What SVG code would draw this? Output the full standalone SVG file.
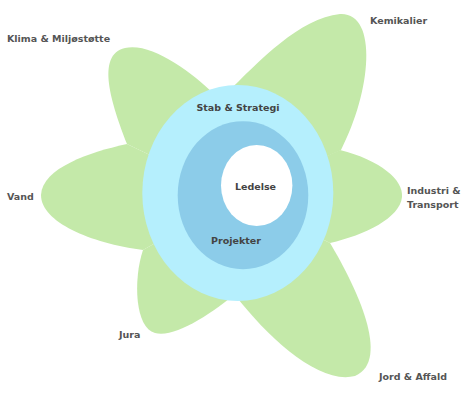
<svg xmlns="http://www.w3.org/2000/svg" width="470" height="402" viewBox="0 0 470 402">
<style>
.petal{fill:#c4e9a9}
.lbl{font-family:"DejaVu Sans",Verdana,sans-serif;font-weight:bold;font-size:9.5px;fill:#555555}
.in{fill:#444444}
</style>
<rect width="470" height="402" fill="#ffffff"/>
<g id="petals">
<path id="p-klima" class="petal" d="M127,144 C112,105 95,55 125,48 C150,42 190,70 215,95 L237,197 Z"/>
<path id="p-kemikalier" class="petal" d="M225,95 C260,60 300,18 340,14 C378,12 372,90 341,150 L237,197 Z"/>
<path id="p-industri" class="petal" d="M340,150 C380,160 404,180 402,197 C400,218 365,235 330,243 L237,197 Z"/>
<path id="p-jord" class="petal" d="M330,243 C355,285 392,360 355,376 C320,385 270,340 235,295 L237,197 Z"/>
<path id="p-jura" class="petal" d="M240,290 C210,315 175,338 155,333 C135,328 133,280 143,250 L237,197 Z"/>
<path id="p-vand" class="petal" d="M127,144 C90,152 42,168 41,195 C41,222 90,243 143,250 L237,197 Z"/>
</g>
<g id="stab">
<ellipse cx="237.8" cy="193" rx="95.5" ry="108" fill="#b5effd"/>
<text class="lbl in" x="238" y="110.5" text-anchor="middle">Stab &amp; Strategi</text>
</g>
<g id="projekter">
<ellipse cx="243" cy="195.2" rx="65.3" ry="74" fill="#8ccce9"/>
<text class="lbl in" x="236" y="243.5" text-anchor="middle">Projekter</text>
</g>
<g id="ledelse">
<ellipse cx="256.7" cy="185.5" rx="35.7" ry="40.5" fill="#ffffff"/>
<text class="lbl in" x="255.5" y="189.5" text-anchor="middle">Ledelse</text>
</g>
<g id="labels">
<text class="lbl" x="7" y="41.5">Klima &amp; Miljøstøtte</text>
<text class="lbl" x="370" y="23.5">Kemikalier</text>
<text class="lbl" x="407" y="193.5">Industri &amp;</text>
<text class="lbl" x="407" y="207.5">Transport</text>
<text class="lbl" x="7" y="199.5">Vand</text>
<text class="lbl" x="119" y="337.5">Jura</text>
<text class="lbl" x="379" y="379.5">Jord &amp; Affald</text>
</g>
</svg>
